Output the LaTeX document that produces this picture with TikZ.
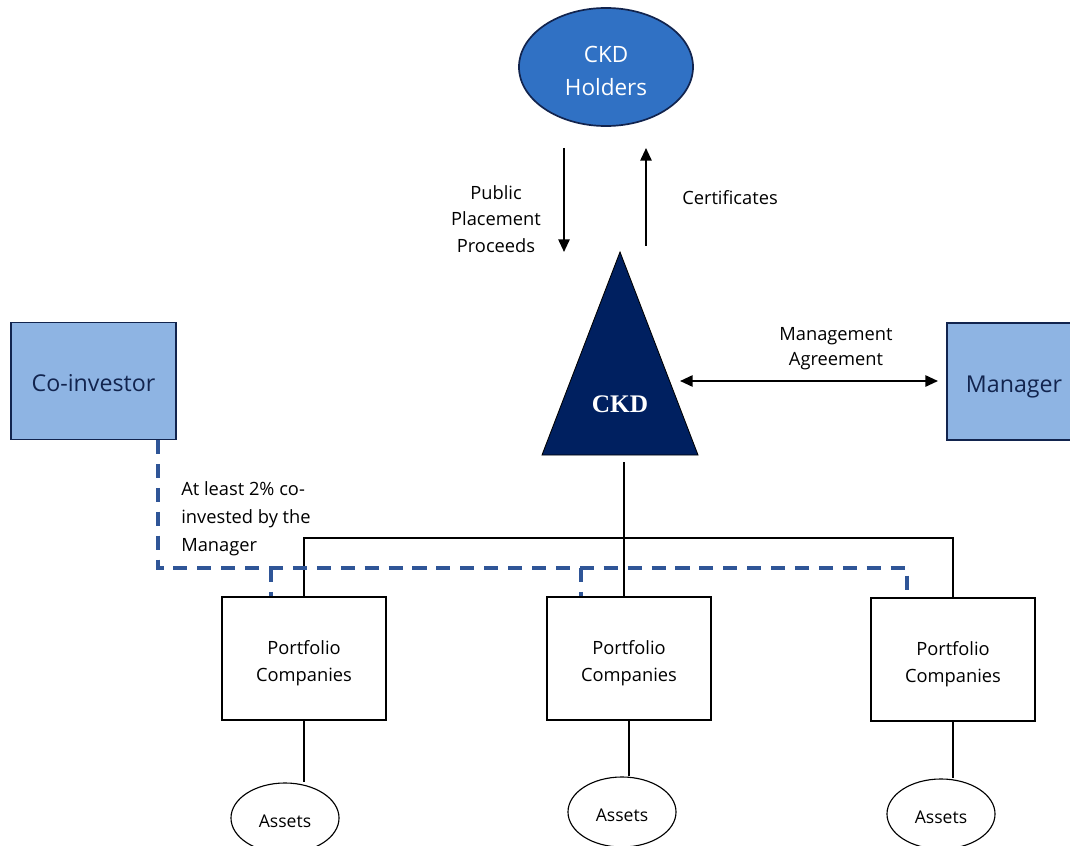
\documentclass[tikz,border=0pt]{standalone}
\usepackage{fontspec}
\setmainfont{Open Sans}
\newfontfamily\ckdserif{Liberation Serif}
\usetikzlibrary{arrows.meta,shapes.geometric}
\definecolor{holderblue}{RGB}{48,113,196}
\definecolor{ckdnavy}{RGB}{0,32,96}
\definecolor{boxblue}{RGB}{142,180,227}
\definecolor{dashblue}{RGB}{47,85,151}
\definecolor{edgenavy}{RGB}{18,36,78}
\begin{document}
\begin{tikzpicture}[x=0.025cm, y=-0.025cm,
		holder/.style={ellipse, draw=edgenavy, line width=1.2pt, fill=holderblue,
			minimum width=4.35cm, minimum height=2.95cm, inner sep=0pt},
		party/.style={rectangle, draw=edgenavy, line width=1.2pt, fill=boxblue,
			minimum height=2.93cm, inner sep=0pt},
		company/.style={rectangle, draw=black, line width=1.3pt, fill=white,
			minimum width=4.1cm, minimum height=3.07cm, inner sep=0pt},
		asset/.style={ellipse, draw=black, line width=0.8pt, fill=white,
			minimum width=2.7cm, minimum height=1.75cm, inner sep=0pt},
		holdertext/.style={text=white, align=center, yshift=-3pt, font=\fontsize{16}{23.5}\selectfont},
		partytext/.style={text=edgenavy, font=\fontsize{16.5}{20}\selectfont},
		pctext/.style={align=center, yshift=-3.5pt, font=\fontsize{13}{19.2}\selectfont},
		assettext/.style={yshift=-2.2pt, font=\fontsize{12.5}{15}\selectfont},
		note/.style={font=\fontsize{13}{19}\selectfont, inner sep=0pt},
		flow/.style={line width=1.4pt, -{Triangle[width=8pt,length=9pt]}},
		tree/.style={line width=1.4pt},
		coinvest/.style={line width=2.2pt, dashblue, dash pattern=on 10pt off 7pt}]
	\useasboundingbox (0,0) rectangle (1070,846);
	
	% CKD holders
	\node[holder] (holders) at (606,67) {};
	\node[holdertext] (holderslbl) at (holders.center) {CKD\\Holders};
	
	% CKD (triangle)
	\coordinate (apex) at (620,252);
	\coordinate (baseR) at (698,455);
	\coordinate (baseL) at (542,455);
	\fill[ckdnavy] (apex)--(baseR)--(baseL)--cycle;
	\draw[black, line width=0.6pt] (apex)--(baseR)--(baseL)--cycle;
	\node[text=white, font=\ckdserif\bfseries\fontsize{18}{20}\selectfont] (ckd) at (620,404) {CKD};
	
	% side parties
	\node[party, minimum width=4.125cm] (coinv) at (93.5,381) {};
	\node[partytext, yshift=-1.5pt] (coinvlbl) at (coinv.center) {Co-investor};
	\node[party, minimum width=3.35cm] (manager) at (1014,381.5) {};
	\node[partytext, yshift=-4pt] (managerlbl) at (manager.center) {Manager};
	
	% portfolio companies and assets
	\node[company] (pc1) at (304,658.5) {};
	\node[company] (pc2) at (629,658.5) {};
	\node[company] (pc3) at (953,659.5) {};
	\foreach \i in {1,2,3}
		\node[pctext] (pclbl\i) at (pc\i.center) {Portfolio\\Companies};
	\node[asset] (as1) at (285,818) {};
	\node[asset] (as2) at (622,812) {};
	\node[asset] (as3) at (941,814) {};
	\foreach \i in {1,2,3}
		\node[assettext] (aslbl\i) at (as\i.center) {Assets};
	
	% labels
	\node[note, align=center] (proceeds) at (496,219) {Public\\Placement\\Proceeds};
	\node[note] (certs) at (730,198) {Certificates};
	\node[note, align=center, font=\fontsize{13}{17.8}\selectfont] (agreement) at (836,349) {Management\\Agreement};
	\node[note, align=left, anchor=west, font=\fontsize{13}{20}\selectfont] (mincoinv) at (181,519) {At least 2\% co-\\invested by the\\Manager};
	
	% DRAW FLOWS
	\coordinate (procTop) at (564,148);
	\coordinate (procEnd) at (564,252);
	\coordinate (certStart) at (646,246);
	\coordinate (certEnd) at (646,148);
	\draw[flow] (procTop)--(procEnd);
	\draw[flow] (certStart)--(certEnd);
	\coordinate (mgmtL) at (680,381);
	\coordinate (mgmtR) at (938,381);
	\draw[flow, {Triangle[width=8pt,length=9pt]}-{Triangle[width=8pt,length=9pt]}] (mgmtL)--(mgmtR);
	
	% DRAW TREE
	\coordinate (ckdfoot) at (624,462);
	\coordinate (split) at (624,538);
	\draw[tree] (ckdfoot)--(ckdfoot |- pc2.north);
	\draw[tree] (pc1.north) |- (split) -| (pc3.north);
	\draw[tree] (pc1.south)--(pc1.south |- as1.north);
	\draw[tree] (pc2.south)--(pc2.south |- as2.north);
	\draw[tree] (pc3.south)--(pc3.south |- as3.north);
	
	% DRAW CO-INVESTMENT
	\coordinate (dStart) at (158,440);
	\coordinate (dEnd) at (907,568);
	\coordinate (d1) at (271,568);
	\coordinate (d2) at (581,568);
	\draw[coinvest] (dStart) |- (dEnd)--(dEnd |- pc3.north);
	\draw[coinvest] (d1)--(d1 |- pc1.north);
	\draw[coinvest] (d2)--(d2 |- pc2.north);
\end{tikzpicture}
\end{document}
